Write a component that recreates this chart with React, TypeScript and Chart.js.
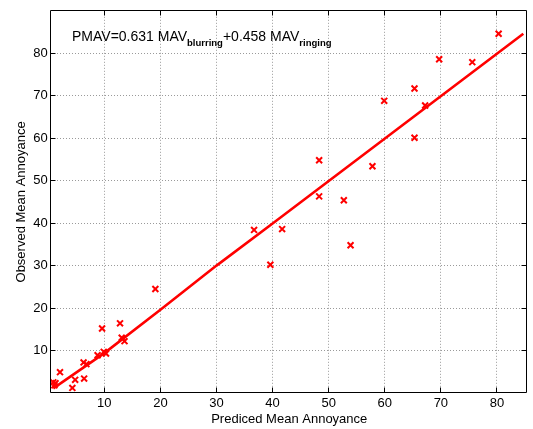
import React, { useEffect, useRef } from "react";
import { Chart, registerables } from "chart.js";

Chart.register(...registerables);

// Observed vs predicted mean annoyance
const predicted = [0.9, 1.3, 1.1, 2.1, 4.3, 4.8, 6.4, 6.3, 6.8, 8.8, 9.9, 10.3, 9.6, 12.8, 13.1, 13.6, 19.1, 36.7, 41.7, 39.6, 53.9, 48.3, 48.3, 52.7, 57.8, 59.9, 65.3, 65.3, 67.2, 69.7, 75.6, 80.3];
const observed = [2.5, 2.3, 1.8, 4.9, 1.2, 3.1, 3.4, 7.2, 6.8, 8.9, 9.7, 9.3, 15.2, 16.4, 13.0, 12.2, 24.5, 38.4, 38.6, 30.2, 34.8, 54.8, 46.3, 45.4, 53.4, 68.8, 71.7, 60.1, 67.7, 78.6, 77.9, 84.6];

// Fitted line vertices
const fitX = [0.9, 10, 20, 30, 40, 84.7];
const fitY = [1.1, 9.4, 19.6, 30, 39.9, 84.6];

// Tick labels
const xTicks = [10, 20, 30, 40, 50, 60, 70, 80];
const yTicks = [10, 20, 30, 40, 50, 60, 70, 80];

const xTitle = "Prediced Mean Annoyance";
const yTitle = "Observed Mean Annoyance";
// Equation: [text, isSubscript]
const equationParts: [string, boolean][] = [
  ["PMAV=0.631 MAV", false],
  ["blurring", true],
  ["+0.458 MAV", false],
  ["ringing", true],
];

const FONT = '"Liberation Sans", Arial, Helvetica, sans-serif';

const framePlugin = {
  id: "matlabFrame",
  afterDraw(chart: any) {
    const { ctx, chartArea, scales } = chart;
    const { left, right, top, bottom } = chartArea;
    const xs = scales.x;
    const ys = scales.y;
    const L = Math.floor(left) + 0.5;
    const R = Math.floor(right) - 0.5;
    const T = Math.floor(top) + 0.5;
    const B = Math.round(bottom) - 0.5;
    const tl = 5;
    ctx.save();
    ctx.strokeStyle = "#000";
    ctx.lineWidth = 1;
    ctx.setLineDash([]);
    ctx.beginPath();
    ctx.moveTo(L, T);
    ctx.lineTo(R, T);
    ctx.lineTo(R, B);
    ctx.lineTo(L, B);
    ctx.closePath();
    ctx.stroke();
    ctx.beginPath();
    for (const v of xTicks) {
      const px = Math.floor(xs.getPixelForValue(v)) + 0.5;
      ctx.moveTo(px, B);
      ctx.lineTo(px, B - tl);
      ctx.moveTo(px, T);
      ctx.lineTo(px, T + tl);
    }
    for (const v of yTicks) {
      const py = Math.floor(ys.getPixelForValue(v)) + 0.5;
      ctx.moveTo(L, py);
      ctx.lineTo(L + tl, py);
      ctx.moveTo(R, py);
      ctx.lineTo(R - tl, py);
    }
    ctx.stroke();

    // equation text
    ctx.fillStyle = "#000";
    ctx.textAlign = "left";
    ctx.textBaseline = "alphabetic";
    let x = 72;
    for (const [txt, sub] of equationParts) {
      ctx.font = sub ? `bold 9.5px ${FONT}` : `14px ${FONT}`;
      ctx.fillText(txt, x, sub ? 46 : 41);
      x += ctx.measureText(txt).width;
    }
    ctx.restore();
  },
};

export default function App() {
  const ref = useRef<HTMLCanvasElement | null>(null);
  useEffect(() => {
    document.body.style.margin = "0";
    const canvas = ref.current;
    if (!canvas) return;
    const points = predicted.map((x, i) => ({ x, y: observed[i] }));
    const line = fitX.map((x, i) => ({ x, y: fitY[i] }));
    const chart = new Chart(canvas, {
      type: "scatter",
      data: {
        datasets: [
          {
            type: "line",
            data: line,
            borderColor: "#ff0000",
            borderWidth: 2.6,
            pointRadius: 0,
            fill: false,
            tension: 0,
            order: 2,
          } as any,
          {
            type: "scatter",
            data: points,
            pointStyle: "crossRot",
            pointRadius: 4.2,
            borderColor: "#ff0000",
            backgroundColor: "#ff0000",
            borderWidth: 2,
            order: 1,
          } as any,
        ],
      },
      options: {
        responsive: false,
        animation: false,
        devicePixelRatio: 1,
        layout: { padding: { top: 9, right: 0, left: 0, bottom: 0 } },
        plugins: { legend: { display: false }, tooltip: { enabled: false } },
        scales: {
          x: {
            type: "linear",
            min: 0.44,
            max: 85.5,
            afterBuildTicks: (s: any) => {
              s.ticks = xTicks.map((v) => ({ value: v }));
            },
            afterFit: (s: any) => {
              s.height = 36;
            },
            grid: { color: "#9a9a9a", lineWidth: 1, drawTicks: false },
            border: { display: false, dash: [1, 2] },
            ticks: {
              padding: 3,
              color: "#000",
              font: { family: FONT, size: 13 },
              maxRotation: 0,
              autoSkip: false,
            },
            title: {
              display: true,
              text: xTitle,
              color: "#000",
              font: { family: FONT, size: 13 },
              padding: { top: 0, bottom: 2 },
            },
          },
          y: {
            type: "linear",
            min: 0,
            max: 90,
            afterBuildTicks: (s: any) => {
              s.ticks = yTicks.map((v) => ({ value: v }));
            },
            afterFit: (s: any) => {
              s.width = 50.7;
            },
            grid: { color: "#9a9a9a", lineWidth: 1, drawTicks: false },
            border: { display: false, dash: [1, 2] },
            ticks: {
              padding: 3,
              color: "#000",
              font: { family: FONT, size: 13 },
              autoSkip: false,
            },
            title: {
              display: true,
              text: yTitle,
              color: "#000",
              font: { family: FONT, size: 13 },
              padding: { top: 13.5, bottom: 0 },
            },
          },
        },
      } as any,
      plugins: [framePlugin],
    });
    return () => chart.destroy();
  }, []);
  return (
    <div style={{ position: "fixed", left: 0, top: 0, width: 533, height: 429, overflow: "hidden", background: "#fff" }}>
      <canvas ref={ref} width={534} height={429} style={{ display: "block" }} />
    </div>
  );
}
